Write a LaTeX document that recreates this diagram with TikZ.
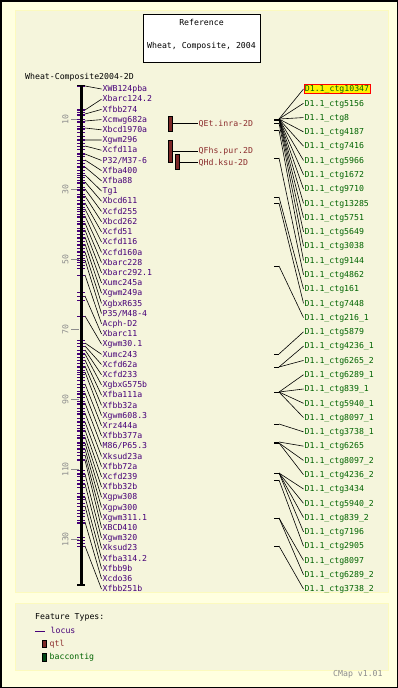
\documentclass[tikz,border=0pt]{standalone}
\usepackage{fontspec}
\setmonofont{DejaVu Sans Mono}
\definecolor{outerbg}{RGB}{255,255,224}
\definecolor{panelbg}{RGB}{245,245,220}
\definecolor{panelbd}{RGB}{252,250,190}
\definecolor{loccol}{RGB}{70,0,120}
\definecolor{qtlcol}{RGB}{125,40,40}
\definecolor{qtltext}{RGB}{140,45,45}
\definecolor{ctgcol}{RGB}{0,100,0}
\definecolor{ctgbar}{RGB}{0,70,20}
\definecolor{scalecol}{RGB}{140,140,140}
\tikzset{
  lbl/.style={inner xsep=1pt, inner ysep=0pt, text height=6pt, text depth=0.5pt, anchor=west},
  loclbl/.style={lbl, text=loccol},
  ctglbl/.style={lbl, text=ctgcol},
  qtllbl/.style={lbl, text=qtltext},
  conn/.style={draw=black, line width=0.6pt},
  loctick/.style={draw=loccol, line width=0.8pt},
  ftick/.style={draw=black, line width=0.6pt},
  qbar/.style={draw=black, fill=qtlcol, line width=0.5pt, minimum width=3.5pt, inner sep=0pt},
  cbar/.style={draw=black, fill=ctgbar, line width=0.5pt, minimum width=3.5pt, inner sep=0pt},
  panel/.style={fill=panelbg, draw=panelbd, line width=1pt}
}
\begin{document}
\begin{tikzpicture}[x=1pt,y=-1pt,font=\ttfamily\fontsize{8.2}{9}\selectfont]
\useasboundingbox (0,0) rectangle (398,688);
% backgrounds
\fill[outerbg] (0,0) rectangle (398,688);
\draw[black, line width=1.5pt] (0.75,0.75) rectangle (397.25,687.25);
\draw[panel] (15,10) rectangle (388,592);
\draw[panel] (15,603) rectangle (388,670);
% title
\node[draw=black, fill=white, line width=0.7pt, minimum width=117pt, minimum height=48pt, inner sep=0pt] (tbox) at (201.5,38) {};
\node[inner sep=0pt] (t1) at (201.5,22) {Reference};
\node[inner sep=0pt] (t2) at (201.5,46) {Wheat, Composite, 2004};
\node[lbl] (maptitle) at (24,77) {Wheat-Composite2004-2D};
% scale
\foreach \c in {10,30,...,130} {
  \pgfmathsetmacro\sy{84.5+3.5*\c}
  \coordinate (sc\c) at (79,\sy);
  \draw[scalecol, line width=0.6pt] (71,\sy) -- (sc\c);
  \node[rotate=90, text=scalecol, inner sep=0pt] (s\c) at (65.5,\sy) {\c};
}
% extra locus ticks
\foreach \t in {109,112.4,...,272,292,300,340,343.4,...,462,470,473.4,...,490,493,496.4,...,524,537,540.5,543.5,546.5} {
  \draw[loctick] (77,\t) -- (85,\t);
}
% loci
\foreach \lab/\ly [count=\i] in {XWB124pba/86, Xbarc124.2/110, Xfbb274/114, Xcmwg682a/121, Xbcd1970a/128, Xgwm296/140, Xcfd11a/146, P32\slash M37-6/154, Xfba400/160, Xfba88/167, Tg1/175, Xbcd611/182, Xcfd255/189, Xbcd262/196, Xcfd51/203, Xcfd116/209, Xcfd160a/216, Xbarc228/223, Xbarc292.1/230, Xumc245a/237, Xgwm249a/244, XgbxR635/252, P35\slash M48-4/260, Acph-D2/275, Xbarc11/296, Xgwm30.1/316, Xumc243/343, Xcfd62a/346, Xcfd233/350, XgbxG575b/354, Xfba111a/360, Xfbb32a/366, Xgwm608.3/372, Xrz444a/384, Xfbb377a/393, M86\slash P65.3/403, Xksud23a/413, Xfbb72a/422, Xcfd239/430, Xfbb32b/437, Xgpw308/443, Xgpw300/449, Xgwm311.1/455, XBCD410/460, Xgwm320/474, Xksud23/484, Xfba314.2/497, Xfbb9b/506, Xcdo36/522, Xfbb251b/546} {
  \pgfmathsetmacro\ty{89+(\i-1)*10.2041}
  \coordinate (a\i) at (85,\ly);
  \coordinate (b\i) at (77,\ly);
  \draw[loctick] (b\i) -- (a\i);
  \node[loclbl] (l\i) at (101.5,\ty) {\lab};
  \draw[conn] (a\i) -- (l\i.west);
}
% axis
\coordinate (axtop) at (81,85.5);
\coordinate (axbot) at (81,585);
\draw[black, line width=3pt] (axtop) -- (axbot);
\draw[black, line width=1.2pt] ([xshift=-4pt]axtop) -- ([xshift=4pt]axtop);
\draw[black, line width=1.2pt] ([xshift=-4pt]axbot) -- ([xshift=4pt]axbot);
% QTLs
\node[qbar, minimum height=15pt] (q1) at (170,123.5) {};
\node[qbar, minimum height=22pt] (q2) at (170,151) {};
\node[qbar, minimum height=15pt] (q3) at (177.3,161.5) {};
\node[qtllbl] (ql1) at (197.5,123.5) {QEt.inra-2D};
\node[qtllbl] (ql2) at (197.5,151) {QFhs.pur.2D};
\node[qtllbl] (ql3) at (197.5,162.7) {QHd.ksu-2D};
\draw[conn] (q1.east) -- (ql1.west);
\draw[conn] (q2.east) -- (ql2.west);
\draw[conn] (q3.east |- ql3.west) -- (ql3.west);
% BAC contigs
\foreach \lab/\fy [count=\i] in {10347/119, 5156/119, 8/119, 4187/119, 7416/119, 5966/119, 1672/119, 9710/119, 13285/119, 5751/119, 5649/120, 3038/123, 9144/130, 4862/158, 161/197, 7448/203, 216\_1/266, 5879/354, 4236\_1/367, 6265\_2/367, 6289\_1/392, 839\_1/392, 5940\_1/392, 8097\_1/392, 3738\_1/424, 6265/442, 8097\_2/443, 4236\_2/443, 3434/473, 5940\_2/473, 839\_2/473, 7196/473, 2905/480, 8097/518, 6289\_2/518, 3738\_2/546} {
  \pgfmathsetmacro\ty{89+(\i-1)*14.2857}
  \coordinate (f\i) at (279,\fy);
  \coordinate (g\i) at (274,\fy);
  \draw[ftick] (g\i) -- (f\i);
  \ifnum\i=1
    \node[ctglbl, fill=yellow, draw=red, line width=0.8pt, inner ysep=1pt] (c\i) at (303.5,\ty) {D1.1\_ctg\lab};
  \else
    \node[ctglbl] (c\i) at (303.5,\ty) {D1.1\_ctg\lab};
  \fi
  \draw[conn] (f\i) -- (c\i.west);
}
% legend
\node[lbl, anchor=west] (ftypes) at (34,617) {Feature Types:};
\coordinate (lg1) at (35,631);
\coordinate (lg2) at (45,631);
\draw[loccol, line width=0.8pt] (lg1) -- (lg2);
\node[loclbl] (lglocus) at (49.5,631) {locus};
\node[qbar, minimum height=7pt] (lgq) at (44,643.5) {};
\node[qtllbl] (lgqtl) at (48.5,643.5) {qtl};
\node[cbar, minimum height=7.5pt] (lgc) at (44,657) {};
\node[ctglbl] (lgctg) at (48.5,657) {baccontig};
\node[lbl, text=scalecol] (cmap) at (332,674) {CMap v1.01};
\end{tikzpicture}
\end{document}
